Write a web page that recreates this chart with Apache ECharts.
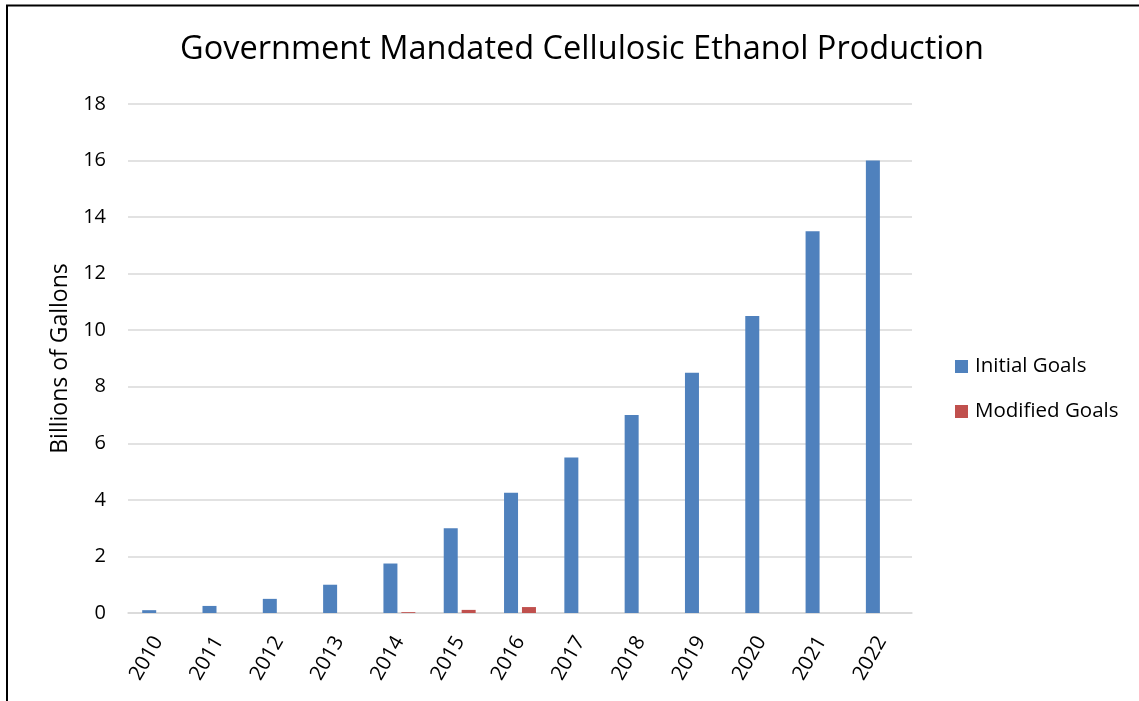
<!DOCTYPE html>
<html>
<head>
<meta charset="utf-8">
<script src="https://cdn.jsdelivr.net/npm/echarts@6/dist/echarts.min.js"></script>
<style>
  html, body { margin: 0; padding: 0; background: #ffffff; }
  #chart { width: 1139px; height: 701px; }
</style>
</head>
<body>
<div id="chart"></div>
<script>
// Cellulosic ethanol mandate, billions of gallons per year
const years = ['2010', '2011', '2012', '2013', '2014', '2015', '2016', '2017', '2018', '2019', '2020', '2021', '2022'];
const initialGoals = [0.1, 0.25, 0.5, 1.0, 1.75, 3.0, 4.25, 5.5, 7.0, 8.5, 10.5, 13.5, 16.0];
const modifiedGoals = [null, null, null, null, 0.03, 0.11, 0.21, null, null, null, null, null, null];
const yTicks = { min: 0, max: 18, step: 2 };

const FONT = '"Open Sans", sans-serif';

const chart = echarts.init(document.getElementById('chart'), null, { renderer: 'canvas' });
chart.setOption({
  animation: false,
  backgroundColor: '#ffffff',
  title: {
    text: 'Government Mandated Cellulosic Ethanol Production',
    left: 577,
    textAlign: 'center',
    top: 28,
    textStyle: { fontFamily: FONT, fontSize: 32.5, fontWeight: 'normal', color: '#000000' }
  },
  graphic: [{
    type: 'rect',
    shape: { x: 7, y: 5.5, width: 1300, height: 900 },
    style: { fill: 'none', stroke: '#000000', lineWidth: 2 },
    silent: true
  }],
  legend: {
    orient: 'vertical',
    left: 950,
    top: 351,
    itemWidth: 13,
    itemHeight: 13,
    itemGap: 24,
    icon: 'rect',
    textStyle: { fontFamily: FONT, fontSize: 20.5, color: '#000000', padding: [0, 0, 0, 2] },
    data: ['Initial Goals', 'Modified Goals']
  },
  grid: { left: 128, right: 227, top: 104, bottom: 88, containLabel: false },
  xAxis: {
    type: 'category',
    data: years,
    axisLine: { lineStyle: { color: '#d9d9d9', width: 1.5 } },
    axisTick: { show: false },
    axisLabel: {
      rotate: 60,
      margin: 25,
      fontFamily: FONT,
      fontSize: 20.5,
      color: '#000000',
      interval: 0
    }
  },
  yAxis: {
    type: 'value',
    min: yTicks.min,
    max: yTicks.max,
    interval: yTicks.step,
    name: 'Billions of Gallons',
    nameLocation: 'middle',
    nameGap: 56,
    nameTextStyle: { fontFamily: FONT, fontSize: 23, color: '#000000' },
    axisLine: { show: false },
    axisTick: { show: false },
    splitLine: { lineStyle: { color: '#d9d9d9', width: 1.5 } },
    axisLabel: { fontFamily: FONT, fontSize: 20, color: '#000000', margin: 22 }
  },
  series: [
    {
      name: 'Initial Goals',
      type: 'bar',
      data: initialGoals,
      barWidth: 14,
      barGap: '28%',
      itemStyle: { color: '#4f81bd' }
    },
    {
      name: 'Modified Goals',
      type: 'bar',
      data: modifiedGoals,
      barWidth: 14,
      itemStyle: { color: '#c0504d' }
    }
  ]
});
</script>
</body>
</html>
